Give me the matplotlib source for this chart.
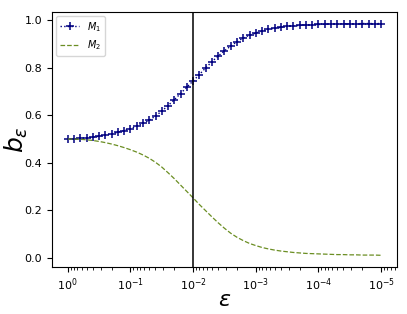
import matplotlib
matplotlib.use('Agg')
import matplotlib.pyplot as plt

# exponents of epsilon (eps = 10**exp), 0 down to -5
exps = [0.0, -0.1, -0.2, -0.3, -0.4, -0.5, -0.6, -0.7, -0.8, -0.9,
        -1.0, -1.1, -1.2, -1.3, -1.4, -1.5, -1.6, -1.7, -1.8, -1.9,
        -2.0, -2.1, -2.2, -2.3, -2.4, -2.5, -2.6, -2.7, -2.8, -2.9,
        -3.0, -3.1, -3.2, -3.3, -3.4, -3.5, -3.6, -3.7, -3.8, -3.9,
        -4.0, -4.1, -4.2, -4.3, -4.4, -4.5, -4.6, -4.7, -4.8, -4.9,
        -5.0]

m1 = [0.500, 0.501, 0.503, 0.505, 0.508, 0.512, 0.517, 0.522, 0.529, 0.536,
      0.544, 0.554, 0.566, 0.580, 0.597, 0.618, 0.641, 0.666, 0.692, 0.719,
      0.745, 0.772, 0.800, 0.826, 0.850, 0.872, 0.892, 0.910, 0.926, 0.938,
      0.947, 0.955, 0.962, 0.967, 0.971, 0.975, 0.977, 0.979, 0.981, 0.982,
      0.983, 0.984, 0.985, 0.985, 0.986, 0.986, 0.986, 0.987, 0.987, 0.987,
      0.987]

m2 = [0.500, 0.500, 0.499, 0.497, 0.494, 0.490, 0.485, 0.479, 0.472, 0.464,
      0.455, 0.445, 0.433, 0.419, 0.402, 0.382, 0.358, 0.333, 0.306, 0.279,
      0.252, 0.224, 0.198, 0.172, 0.147, 0.124, 0.103, 0.086, 0.072, 0.060,
      0.051, 0.043, 0.037, 0.032, 0.028, 0.025, 0.022, 0.020, 0.018, 0.017,
      0.016, 0.015, 0.014, 0.013, 0.013, 0.012, 0.012, 0.011, 0.011, 0.011,
      0.010]

eps_line = 1e-2

eps = [10 ** e for e in exps]

fig = plt.figure(figsize=(4.07, 3.14), dpi=100)
ax = fig.add_axes([0.128, 0.150, 0.847, 0.812])

ax.plot(eps, m1, color='navy', linestyle=':', marker='+', markersize=6,
        markeredgewidth=1.1, linewidth=1, label='$M_1$')
ax.plot(eps, m2, color='olivedrab', linestyle='--', linewidth=0.9,
        label='$M_2$')
ax.axvline(eps_line, color='black', linewidth=1.1)

ax.set_xscale('log')
ax.invert_xaxis()

ax.tick_params(labelsize=8)
ax.set_xlabel(r'$\varepsilon$', fontsize=16, labelpad=-2)
ax.set_ylabel(r'$b_\varepsilon$', fontsize=18, labelpad=-4)
ax.legend(loc='upper left', fontsize=7, borderaxespad=0.4)

fig.savefig('out.png', dpi=100)
